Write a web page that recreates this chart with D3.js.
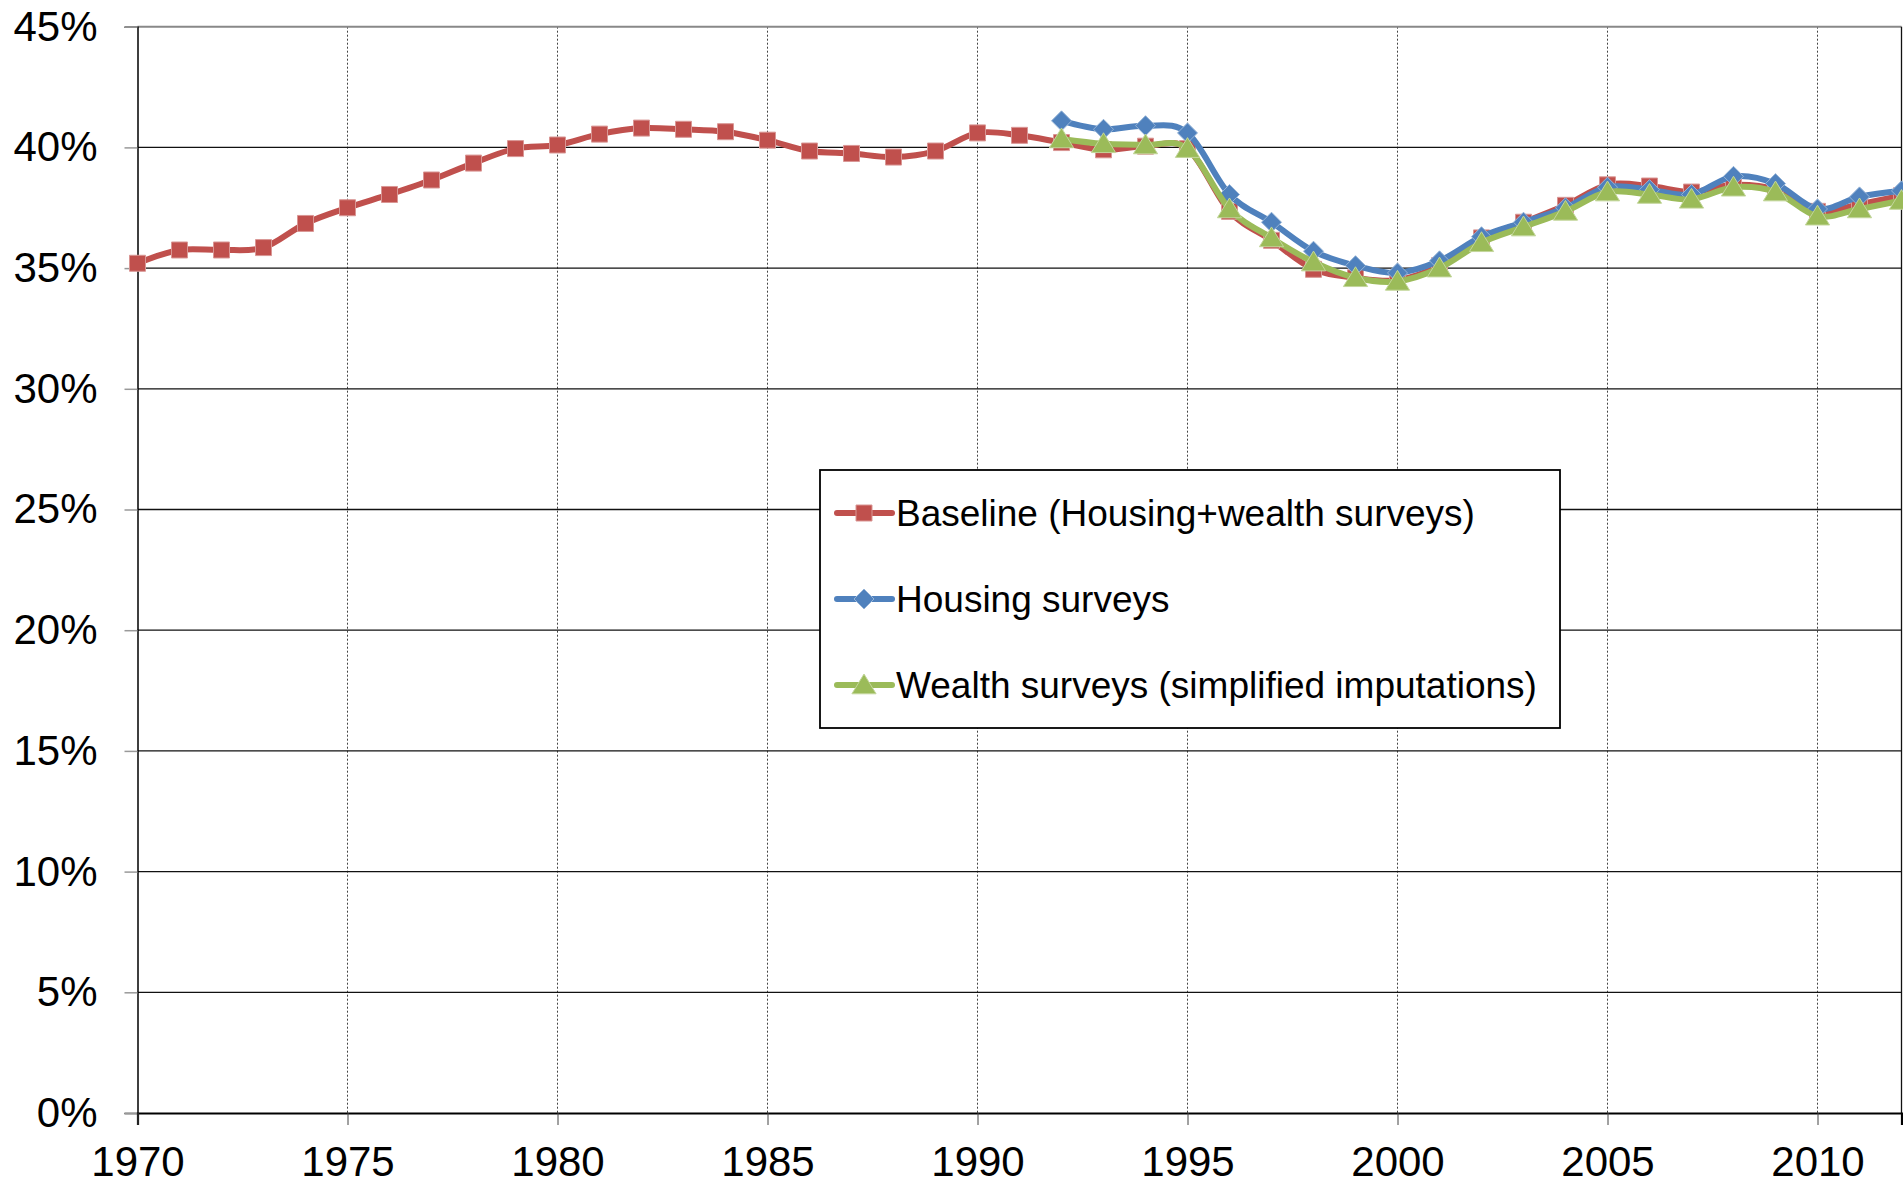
<!DOCTYPE html>
<html>
<head>
<meta charset="utf-8">
<script src="https://cdn.jsdelivr.net/npm/d3@7"></script>
<style>
  body { margin: 0; background: #fff; }
  text { font-family: "Liberation Sans", Arial, sans-serif; fill: #000; }
</style>
</head>
<body>
<svg id="chart" width="1903" height="1187"></svg>
<script>
// Chart data (share in %).
const baselineYears = d3.range(1970, 2013);
const baselineVals = [35.2, 35.75, 35.75, 35.85, 36.85, 37.5, 38.05, 38.65, 39.35, 39.95,
  40.1, 40.55, 40.8, 40.75, 40.65, 40.3, 39.85, 39.75, 39.6, 39.85,
  40.6, 40.5, 40.2, 39.9, 40.05, 39.95, 37.35, 36.15, 34.95, 34.6,
  34.5, 35.1, 36.25, 36.9, 37.6, 38.45, 38.4, 38.15, 38.45, 38.25,
  37.35, 37.65, 38.0];

const surveyYears = d3.range(1992, 2013);
const housingVals = [41.1, 40.75, 40.9, 40.6, 38.05, 36.9, 35.7, 35.1, 34.8, 35.3,
  36.3, 36.9, 37.5, 38.35, 38.25, 38.05, 38.8, 38.5, 37.45, 37.95, 38.2];
const wealthVals = [40.35, 40.15, 40.1, 39.95, 37.45, 36.25, 35.25, 34.6, 34.45, 35.0,
  36.05, 36.7, 37.35, 38.15, 38.05, 37.85, 38.35, 38.15, 37.15, 37.45, 37.8];

const seriesNames = ["Baseline (Housing+wealth surveys)", "Housing surveys",
  "Wealth surveys (simplified imputations)"];
const yTicks = [0, 5, 10, 15, 20, 25, 30, 35, 40, 45];
const xTicks = [1970, 1975, 1980, 1985, 1990, 1995, 2000, 2005, 2010];

// Layout.
const plotL = 137.5, plotR = 1901.5, plotT = 26.7, plotB = 1113;
const svg = d3.select("#chart");

const x = d3.scaleLinear().domain([1970, 2012]).range([plotL, plotR]);
const y = d3.scaleLinear().domain([0, 45]).range([plotB, plotT]);

// Vertical gridlines (dotted).
svg.append("g")
  .selectAll("line")
  .data(xTicks.slice(1))
  .enter().append("line")
  .attr("x1", d => x(d)).attr("x2", d => x(d))
  .attr("y1", plotT).attr("y2", plotB)
  .attr("stroke", "#444")
  .attr("stroke-width", 1)
  .attr("stroke-dasharray", "2,2");

// Horizontal gridlines.
svg.append("g")
  .selectAll("line")
  .data(yTicks.slice(1))
  .enter().append("line")
  .attr("x1", plotL).attr("x2", plotR)
  .attr("y1", d => y(d)).attr("y2", d => y(d))
  .attr("stroke", d => d == 45 ? "#888" : "#111")
  .attr("stroke-width", d => d == 45 ? 2 : 1.3);

// Right border.
svg.append("line")
  .attr("x1", plotR).attr("x2", plotR)
  .attr("y1", plotT).attr("y2", plotB)
  .attr("stroke", "#111").attr("stroke-width", 1.3);

// Y axis.
const yAxis = svg.append("g")
  .attr("transform", "translate(" + plotL + ",0)")
  .call(d3.axisLeft(y).tickValues(yTicks).tickSize(13).tickPadding(27)
    .tickFormat(d => d + "%"));
yAxis.select(".domain").attr("stroke", "#000").attr("stroke-width", 1.5);
yAxis.selectAll(".tick line").attr("stroke", "#999").attr("stroke-width", 1.5);
yAxis.selectAll("text").attr("font-size", 42).style("font-family", "Liberation Sans, Arial, sans-serif");

// X axis.
const xAxis = svg.append("g")
  .attr("transform", "translate(0," + plotB + ")")
  .call(d3.axisBottom(x).tickValues(xTicks).tickSize(12).tickPadding(21)
    .tickFormat(d3.format("d")));
xAxis.select(".domain").attr("stroke", "#000").attr("stroke-width", 2.2);
xAxis.selectAll(".tick line").attr("stroke", "#444").attr("stroke-width", 1);
xAxis.selectAll("text").attr("font-size", 42).style("font-family", "Liberation Sans, Arial, sans-serif");

// Marker shapes.
function squarePath(s) { return "M" + (-s) + "," + (-s) + "H" + s + "V" + s + "H" + (-s) + "Z"; }
function diamondPath(s) { return "M0," + (-s) + "L" + s + ",0L0," + s + "L" + (-s) + ",0Z"; }
function trianglePath(s) { return "M0," + (-s) + "L" + (s * 1.1) + "," + (s * 0.8) + "L" + (-s * 1.1) + "," + (s * 0.8) + "Z"; }

const series = [
  { name: seriesNames[0], years: baselineYears, vals: baselineVals, color: "#C0504D", edge: "#D99694", marker: squarePath(8) },
  { name: seriesNames[1], years: surveyYears, vals: housingVals, color: "#4F81BD", edge: "#95B3D7", marker: diamondPath(10) },
  { name: seriesNames[2], years: surveyYears, vals: wealthVals, color: "#9BBB59", edge: "#C3D69B", marker: trianglePath(11) }
];

const line = d3.line()
  .x(d => x(d[0]))
  .y(d => y(d[1]))
  .curve(d3.curveCatmullRom.alpha(0));

series.forEach(function(s) {
  let pts = s.years.map((yr, i) => [yr, s.vals[i]]);
  let g = svg.append("g");
  g.append("path")
    .datum(pts)
    .attr("d", line)
    .attr("fill", "none")
    .attr("stroke", s.color)
    .attr("stroke-width", 6)
    .attr("stroke-linejoin", "round");
  g.selectAll("path.mk")
    .data(pts)
    .enter().append("path")
    .attr("class", "mk")
    .attr("d", s.marker)
    .attr("transform", d => "translate(" + x(d[0]) + "," + y(d[1]) + ")")
    .attr("fill", s.color)
    .attr("stroke", s.edge)
    .attr("stroke-width", 1);
});

// Legend.
const legend = svg.append("g").attr("transform", "translate(820,470)");
legend.append("rect")
  .attr("width", 740).attr("height", 258)
  .attr("fill", "#fff").attr("stroke", "#000").attr("stroke-width", 1.8);

const rowY = [43, 129, 215];
series.forEach(function(s, i) {
  let row = legend.append("g").attr("transform", "translate(0," + rowY[i] + ")");
  row.append("line")
    .attr("x1", 17).attr("x2", 72)
    .attr("stroke", s.color).attr("stroke-width", 6)
    .attr("stroke-linecap", "round");
  row.append("path")
    .attr("d", s.marker)
    .attr("transform", "translate(44,0)")
    .attr("fill", s.color)
    .attr("stroke", s.edge).attr("stroke-width", 1);
  row.append("text")
    .attr("x", 76)
    .attr("dy", "0.36em")
    .attr("font-size", 37)
    .text(s.name);
});
</script>
</body>
</html>
